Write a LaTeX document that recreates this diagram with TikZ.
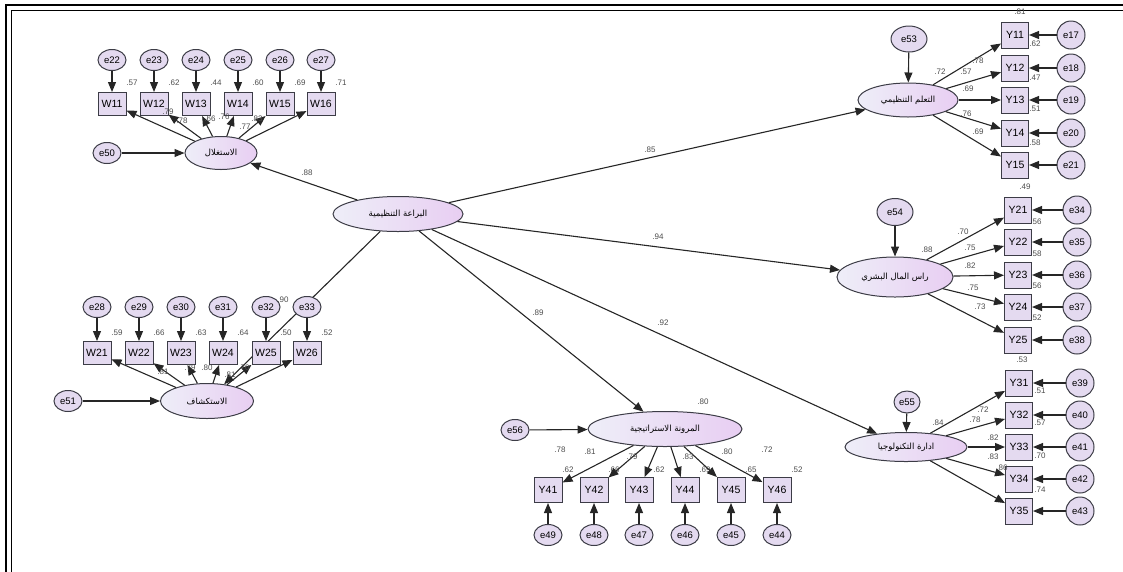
\documentclass[tikz,border=0pt]{standalone}
\usepackage{fontspec}
\setmainfont{Liberation Sans}
\newfontfamily\arabicfont[Script=Arabic]{DejaVu Sans}
\TeXXeTstate=1
\usepackage{tikz}
\usetikzlibrary{shapes.geometric,arrows.meta,positioning}
\definecolor{amosLav}{RGB}{228,218,240}
\definecolor{amosLeft}{RGB}{238,238,248}
\definecolor{amosRight}{RGB}{232,206,242}
\definecolor{amosLine}{RGB}{60,60,70}
\newcommand{\arab}[1]{{\arabicfont\beginR #1\endR}}

\begin{document}
\begin{tikzpicture}[x=1pt,y=-1pt,
    latent/.style={ellipse,draw=amosLine,line width=1pt,left color=amosLeft,right color=amosRight,inner sep=0pt,font=\fontsize{8.5}{9}\selectfont},
    obs/.style={rectangle,draw=amosLine,line width=1pt,fill=amosLav,minimum width=28pt,minimum height=23pt,inner sep=0pt,font=\fontsize{10.5}{11}\selectfont},
    obsy/.style={obs,minimum width=27pt,minimum height=26pt},
    err/.style={ellipse,draw=amosLine,line width=1pt,fill=amosLav,minimum width=28pt,minimum height=21pt,inner sep=0pt,font=\fontsize{9.5}{10}\selectfont},
    erry/.style={err,minimum height=28pt},
    amosarrow/.style={-{Triangle[length=10pt,width=8pt]},line width=1.1pt,draw=black!85},
    coef/.style={font=\fontsize{8}{8}\selectfont,text=black!70,inner sep=0.5pt}]
  \useasboundingbox (0,0) rectangle (1123,571);
  % Frame
  \draw[line width=2.5pt] (6,580) -- (6,5) -- (1130,5);
  \draw[line width=0.8pt] (11,580) -- (11,10) -- (1130,10);

  % Centre: second order factor
  \node[latent,minimum width=130pt,minimum height=35pt] (ambi) at (398,214) {\arab{البراعة التنظيمية}};

  % Exploitation, W11..W16
  \node[latent,minimum width=72pt,minimum height=33pt] (exploit) at (221,153) {\arab{الاستغلال}};
  \node[err] (e50) at (107,153) {e50};
  \draw[amosarrow] (e50) -- (exploit);
  \draw[amosarrow] (ambi) -- (exploit);
  \foreach \i/\x/\r in {1/112/.57,2/154/.62,3/196/.44,4/238/.60,5/280/.69,6/321/.71} {
    \pgfmathtruncatemacro{\en}{21+\i}
    \node[err] (e\en) at (\x,60) {e\en};
    \node[obs] (W1\i) at (\x,104) {W1\i};
    \node[coef] (rw1\i) at (\x+20,83) {\r};
    \draw[amosarrow] (e\en) -- (W1\i);
    \draw[amosarrow] (exploit) -- (W1\i);
  }
  \foreach \n/\x/\y/\v in {1/168/112/.79,2/182/121/.78,3/210/119/.66,4/224/117/.76,5/245/127/.77,6/257/119/.83}
    \node[coef] (lw1\n) at (\x,\y) {\v};

  % Exploration, W21..W26
  \node[latent,minimum width=93pt,minimum height=35pt] (explore) at (207,401) {\arab{الاستكشاف}};
  \node[err] (e51) at (68,401) {e51};
  \draw[amosarrow] (e51) -- (explore);
  \draw[amosarrow] (ambi) -- (explore);
  \foreach \i/\x/\r in {1/97/.59,2/139/.66,3/181/.63,4/223/.64,5/266/.50,6/307/.52} {
    \pgfmathtruncatemacro{\en}{27+\i}
    \node[err] (e\en) at (\x,307) {e\en};
    \node[obs] (W2\i) at (\x,353) {W2\i};
    \node[coef] (rw2\i) at (\x+20,333) {\r};
    \draw[amosarrow] (e\en) -- (W2\i);
    \draw[amosarrow] (explore) -- (W2\i);
  }
  \foreach \n/\x/\y/\v in {1/163/372/.81,2/190/368/.79,3/207/368/.80,4/230/375/.81,5/244/368/.70}
    \node[coef] (lw2\n) at (\x,\y) {\v};

  % Organisational learning, Y11..Y15
  \node[latent,minimum width=100pt,minimum height=34pt] (learn) at (908,100) {\arab{التعلم التنظيمي}};
  \node[err,minimum width=36pt,minimum height=26pt] (e53) at (909,39) {e53};
  \draw[amosarrow] (e53) -- (learn);
  \draw[amosarrow] (ambi) -- (learn);
  \foreach \i/\y in {1/35,2/68,3/100,4/133,5/165} {
    \pgfmathtruncatemacro{\en}{16+\i}
    \node[obsy] (Y1\i) at (1015,\y) {Y1\i};
    \node[erry] (e\en) at (1071,\y) {e\en};
    \draw[amosarrow] (e\en) -- (Y1\i);
    \draw[amosarrow] (learn) -- (Y1\i);
  }

  % Human capital, Y21..Y25
  \node[latent,minimum width=116pt,minimum height=40pt] (human) at (895,277) {\arab{راس المال البشري}};
  \node[err,minimum width=36pt,minimum height=27pt] (e54) at (895,212) {e54};
  \draw[amosarrow] (e54) -- (human);
  \draw[amosarrow] (ambi) -- (human);
  \foreach \i/\y in {1/210,2/242,3/275,4/307,5/340} {
    \pgfmathtruncatemacro{\en}{33+\i}
    \node[obsy] (Y2\i) at (1018,\y) {Y2\i};
    \node[erry] (e\en) at (1077,\y) {e\en};
    \draw[amosarrow] (e\en) -- (Y2\i);
    \draw[amosarrow] (human) -- (Y2\i);
  }

  % Technology management, Y31..Y35
  \node[latent,minimum width=122pt,minimum height=29pt] (tech) at (906,447) {\arab{ادارة التكنولوجيا}};
  \node[err,minimum width=26pt,minimum height=22pt] (e55) at (907,402) {e55};
  \draw[amosarrow] (e55) -- (tech);
  \draw[amosarrow] (ambi) -- (tech);
  \foreach \i/\y in {1/383,2/415,3/447,4/479,5/511} {
    \pgfmathtruncatemacro{\en}{38+\i}
    \node[obsy] (Y3\i) at (1019,\y) {Y3\i};
    \node[erry] (e\en) at (1080,\y) {e\en};
    \draw[amosarrow] (e\en) -- (Y3\i);
    \draw[amosarrow] (tech) -- (Y3\i);
  }

  % Strategic flexibility, Y41..Y46
  \node[latent,minimum width=154pt,minimum height=35pt] (flex) at (665,429) {\arab{المرونة الاستراتيجية}};
  \node[err] (e56) at (515,430) {e56};
  \draw[amosarrow] (e56) -- (flex);
  \draw[amosarrow] (ambi) -- (flex);
  \foreach \i/\x/\l/\r in {1/548/.78/.62,2/594/.81/.66,3/639/.79/.62,4/685/.83/.69,5/731/.80/.65,6/777/.72/.52} {
    \pgfmathtruncatemacro{\en}{50-\i}
    \node[obs,minimum height=25pt] (Y4\i) at (\x,490) {Y4\i};
    \node[err] (e\en) at (\x,535) {e\en};
    \node[coef] (ry4\i) at (\x+20,470) {\r};
    \draw[amosarrow] (e\en) -- (Y4\i);
    \draw[amosarrow] (flex) -- (Y4\i);
  }
  \foreach \n/\x/\y/\v in {1/560/450/.78,2/590/452/.81,3/632/457/.79,4/688/457/.83,5/727/452/.80,6/767/450/.72}
    \node[coef] (ly4\n) at (\x,\y) {\v};

  % Loadings and R squared, right column
  \foreach \n/\x/\y/\v in {1/978/61/.78,2/966/72/.57,3/968/89/.69,4/966/114/.76,5/978/132/.69,
      6/963/232/.70,7/970/248/.75,8/970/266/.82,9/973/288/.75,10/980/307/.73,
      11/983/410/.72,12/975/420/.78,13/993/438/.82,14/993/457/.83,15/1002/468/.86}
    \node[coef] (ly\n) at (\x,\y) {\v};
  \foreach \n/\x/\y/\v in {1/1020/12/.81,2/1035/44/.62,3/1035/78/.47,4/1035/109/.51,5/1035/143/.58,
      6/1025/187/.49,7/1036/222/.56,8/1036/254/.58,9/1036/286/.56,10/1036/318/.52,
      11/1022/360/.53,12/1040/391/.51,13/1040/423/.57,14/1040/456/.70,15/1040/490/.74}
    \node[coef] (ry\n) at (\x,\y) {\v};

  % Structural weights and factor R squared
  \node[coef] (s1) at (307,173) {.88};
  \node[coef] (s2) at (283,300) {.90};
  \node[coef] (s3) at (650,150) {.85};
  \node[coef] (s4) at (658,237) {.94};
  \node[coef] (s5) at (538,313) {.89};
  \node[coef] (s6) at (663,323) {.92};
  \node[coef] (q1) at (940,72) {.72};
  \node[coef] (q2) at (927,250) {.88};
  \node[coef] (q3) at (938,423) {.84};
  \node[coef] (q4) at (703,402) {.80};
\end{tikzpicture}
\end{document}
